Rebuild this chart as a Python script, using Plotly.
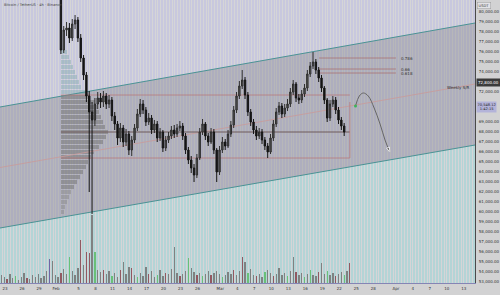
import plotly.graph_objects as go
import pandas as pd

# ---------------- data ----------------
candle_start = "2024-02-01 21:00"   # 12h candles
opens = [83000, 76200, 78200, 78400, 77400, 78800, 79200, 77400, 75400, 73700,
         71600, 70000, 69200, 70800, 71400, 71000, 71600, 70800, 71200, 69600,
         68800, 67400, 68400, 67000, 67800, 66200, 67200, 68400, 69800, 70800,
         70200, 69000, 69400, 68200, 68800, 67400, 68000, 66400, 67200, 67600,
         68200, 67800, 68400, 68600, 67600, 66200, 65200, 64400, 63700, 65400,
         68000, 68800, 67600, 67000, 68000, 66200, 64000, 66200, 67000, 66600,
         67800, 68700, 70200, 71600, 72600, 73200, 71700, 70000, 69000, 68200,
         67600, 68000, 67200, 66600, 66000, 67400, 68800, 70000, 70600, 69800,
         70400, 70800, 72000, 72800, 71400, 71200, 71800, 72400, 73800, 74600,
         75000, 74200, 73400, 72400, 71200, 69400, 70800, 71200, 70200, 69200,
         68600]
highs = [83500, 78600, 79000, 78900, 79300, 79700, 79500, 77800, 75700, 74000,
         72100, 71000, 71400, 72000, 71900, 72100, 71900, 71700, 71500, 70000,
         69100, 68900, 68700, 68300, 68100, 67600, 68800, 70300, 71300, 71200,
         70500, 69900, 69700, 69200, 69100, 68400, 68200, 67600, 68000, 68600,
         68700, 68800, 69100, 68900, 67900, 66500, 65600, 64800, 65800, 68400,
         69300, 69000, 67900, 68400, 68300, 66400, 66600, 67500, 67300, 68200,
         69100, 70600, 72000, 73100, 74200, 73500, 72000, 70300, 69300, 68600,
         68400, 68300, 67500, 66900, 67800, 69200, 70400, 71000, 70900, 70800,
         71300, 72400, 73200, 73000, 71800, 72200, 72800, 74200, 75000, 76000,
         75300, 74500, 73700, 72600, 71400, 71200, 71600, 71500, 70500, 69500,
         68900]
lows = [75800, 75900, 77600, 76900, 77100, 78300, 77000, 75000, 73200, 71000,
        62000, 59800, 68600, 70300, 70400, 70500, 70300, 70400, 69100, 68200,
        66700, 67000, 66500, 66600, 65700, 65600, 66900, 68100, 69500, 69800,
        68600, 68700, 67800, 67900, 67000, 67100, 66000, 66100, 66900, 67300,
        67400, 67500, 68100, 67200, 65800, 64800, 63900, 63000, 63400, 65200,
        67700, 67200, 66600, 66800, 65800, 63000, 63700, 65900, 66200, 66400,
        67500, 68400, 69900, 71300, 72300, 71300, 69600, 68600, 67800, 67200,
        67300, 66800, 66200, 65400, 65800, 67100, 68500, 69700, 69400, 69500,
        70100, 70500, 71700, 71000, 70800, 70900, 71500, 72100, 73500, 74300,
        73800, 73000, 72000, 70800, 69000, 69100, 70500, 69800, 68800, 68200,
        67600]
closes = [76200, 78200, 78400, 77400, 78800, 79200, 77400, 75400, 73700, 71600,
          70000, 69200, 70800, 71400, 71000, 71600, 70800, 71200, 69600, 68800,
          67400, 68400, 67000, 67800, 66200, 67200, 68400, 69800, 70800, 70200,
          69000, 69400, 68200, 68800, 67400, 68000, 66400, 67200, 67600, 68200,
          67800, 68400, 68600, 67600, 66200, 65200, 64400, 63700, 65400, 68000,
          68800, 67600, 67000, 68000, 66200, 64000, 66200, 67000, 66600, 67800,
          68700, 70200, 71600, 72600, 73200, 71700, 70000, 69000, 68200, 67600,
          68000, 67200, 66600, 66000, 67400, 68800, 70000, 70600, 69800, 70400,
          70800, 72000, 72800, 71400, 71200, 71800, 72400, 73800, 74600, 75000,
          74200, 73400, 72400, 71200, 69400, 70800, 71200, 70200, 69200, 68600,
          68000]

vol_start = "2024-01-22 09:00"    # 12h volume bars (thousands)
volumes_k = [8, 6, 4, 9, 5, 7, 3, 6, 10, 5,
             4, 8, 6, 9, 5, 7, 12, 24, 22, 8,
             6, 10, 14, 9, 26, 12, 8, 15, 43, 18,
             31, 30, 68, 31, 13, 11, 13, 9, 12, 7,
             10, 6, 13, 21, 9, 16, 15, 8, 6, 10,
             7, 16, 9, 12, 6, 8, 13, 7, 10, 9,
             14, 36, 10, 7, 9, 12, 25, 15, 11, 8,
             10, 7, 9, 12, 8, 10, 12, 9, 6, 8,
             11, 9, 13, 8, 12, 26, 21, 10, 14, 8,
             7, 9, 6, 11, 13, 10, 7, 9, 15, 8,
             10, 7, 12, 26, 11, 8, 10, 6, 9, 13,
             8, 7, 11, 20, 9, 12, 8, 10, 7, 9,
             11, 8, 12, 20]
vol_codes = ("kkrkkekkkr" "kkkkkkkpkk" "krkkekkkrk" "rrkekkrkke" "kkrkkkrkek"
             "kkrkkekkrk" "kkkrkkekkr" "kekkrkkkek" "kkrkkrkekk" "rkkekkrkkk"
             "kekkrkkeke" "kkrkkekkrk" "kekr")

profile_prices = [76000, 75500, 75000, 74500, 74000, 73500, 73000, 72500, 72000, 71500,
                  71000, 70500, 70000, 69500, 69000, 68500, 68000, 67500, 67000, 66500,
                  66000, 65500, 65000, 64500, 64000, 63500, 63000, 62500, 62000, 61500,
                  61000, 60500, 60000]
profile_volume = [6, 8, 10, 12, 14, 16, 18, 20, 24, 28,
                  34, 36, 38, 40, 42, 44, 47, 45, 42, 38,
                  33, 30, 27, 25, 22, 19, 16, 13, 10, 8,
                  6, 4, 3]

tick_dates = ["2024-01-23", "2024-01-26", "2024-01-29", "2024-02-01", "2024-02-05",
              "2024-02-08", "2024-02-11", "2024-02-14", "2024-02-17", "2024-02-20",
              "2024-02-23", "2024-02-26", "2024-03-01", "2024-03-04", "2024-03-07",
              "2024-03-10", "2024-03-13", "2024-03-16", "2024-03-19", "2024-03-22",
              "2024-03-25", "2024-03-28", "2024-04-01", "2024-04-04", "2024-04-07",
              "2024-04-10", "2024-04-13"]
tick_labels = ["23", "26", "29", "Feb", "5", "8", "11", "14", "17", "20", "23", "26",
               "Mar", "4", "7", "10", "13", "16", "19", "22", "25", "28", "Apr",
               "4", "7", "10", "13"]
# price scale labels (73k, 71k and 70k sit under the axis price boxes)
price_ticks = [53000, 54000, 55000, 56000, 57000, 58000, 59000, 60000, 61000, 62000,
               63000, 64000, 65000, 66000, 67000, 68000, 69000, 72000, 74000, 75000,
               76000, 77000, 78000, 79000, 80000]

# channel (drawn by the author): prices at left and right chart edges
chan_upper = [70500, 78900]
chan_lower = [58400, 66700]
chan_mid = [64450, 72800]

# volume profile levels
vah, poc, val = 71700, 68000, 65400

fib_names = ["0.786", "0.66", "0.618"]
fib_prices = [75400, 74300, 73900]

proj_dates = ["2024-03-24 21:00", "2024-03-25 13:00", "2024-03-26 06:00", "2024-03-27 03:00",
              "2024-03-28 04:00", "2024-03-29 05:00", "2024-03-30 02:00", "2024-03-30 22:00"]
proj_prices = [70600, 71600, 71900, 71600, 70400, 68800, 67200, 66000]

# ---------------- figure ----------------
W, H = 500, 295
ML, MR, MT, MB = 0, 22, 0, 12
YMIN, YMAX = 52900, 81200
t0 = pd.Timestamp("2024-01-22 03:00")
t1 = pd.Timestamp("2024-04-14 23:10")
px_ms = (t1 - t0).total_seconds() * 1000 / (W - ML - MR)   # ms per pixel

fig = go.Figure()

# background stripes
stripe_x = pd.date_range("2024-01-22 06:00", "2024-04-14 18:00", freq="12h")
fig.add_trace(go.Bar(x=stripe_x, y=[YMAX - YMIN] * len(stripe_x), base=YMIN,
                     width=px_ms * 0.9, marker=dict(color="#c8c8de", line_width=0),
                     hoverinfo="skip", showlegend=False))
frac = (stripe_x - t0) / (t1 - t0)
low_at = chan_lower[0] + frac * (chan_lower[1] - chan_lower[0])
fig.add_trace(go.Bar(x=stripe_x, y=list(low_at - YMIN), base=YMIN,
                     width=px_ms * 0.9, marker=dict(color="#b4d4d6", line_width=0),
                     hoverinfo="skip", showlegend=False))

# volume profile (horizontal)
prof_cols = ["rgba(120,165,170,0.40)" if p >= 72000 else
             ("rgba(140,140,140,0.45)" if p <= 62000 else "rgba(100,100,100,0.45)")
             for p in profile_prices]
fig.add_trace(go.Bar(orientation="h", y=profile_prices,
                     x=[v * px_ms for v in profile_volume],
                     base=candle_start, width=430,
                     marker=dict(color=prof_cols, line_width=0),
                     hoverinfo="skip", showlegend=False))

# channel fill and lines
fig.add_trace(go.Scatter(x=[t0, t1, t1, t0, t0],
                         y=[chan_upper[0], chan_upper[1], chan_lower[1], chan_lower[0], chan_upper[0]],
                         fill="toself", fillcolor="rgba(115,115,115,0.30)",
                         line=dict(width=0), mode="lines", hoverinfo="skip", showlegend=False))
for ys, col in [(chan_upper, "#4a9294"), (chan_lower, "#4a9294"), (chan_mid, "rgba(200,155,155,0.85)")]:
    fig.add_trace(go.Scatter(x=[t0, t1], y=ys, mode="lines",
                             line=dict(color=col, width=1), hoverinfo="skip", showlegend=False))

# value area lines
va_end = "2024-03-23 21:00"
for lvl, col in [(vah, "rgba(185,115,115,0.7)"), (poc, "#6e5a5a"), (val, "rgba(185,115,115,0.7)")]:
    fig.add_trace(go.Scatter(x=[candle_start, va_end], y=[lvl, lvl], mode="lines",
                             line=dict(color=col, width=1), hoverinfo="skip", showlegend=False))
fig.add_trace(go.Scatter(x=[va_end, va_end], y=[71000, val], mode="lines",
                         line=dict(color="rgba(185,115,115,0.7)", width=1),
                         hoverinfo="skip", showlegend=False))

# fib levels
fib_x0, fib_x1 = "2024-03-18 11:00", "2024-04-01 00:00"
for name, lvl in zip(fib_names, fib_prices):
    fig.add_trace(go.Scatter(x=[fib_x0, fib_x1], y=[lvl, lvl], mode="lines",
                             line=dict(color="rgba(170,110,110,0.75)", width=1),
                             hoverinfo="skip", showlegend=False))
    fig.add_annotation(x="2024-04-01 12:00", y=lvl, text=name, showarrow=False,
                       xanchor="left", yanchor="middle",
                       font=dict(size=4, color="#333", family="DejaVu Sans"))

# projection path
fig.add_trace(go.Scatter(x=proj_dates, y=proj_prices, mode="lines",
                         line=dict(color="#666", width=1, shape="spline"),
                         hoverinfo="skip", showlegend=False))
fig.add_trace(go.Scatter(x=[proj_dates[0]], y=[proj_prices[0]], mode="markers",
                         marker=dict(color="#3bb35a", size=3),
                         hoverinfo="skip", showlegend=False))
fig.add_trace(go.Scatter(x=proj_dates[-2:], y=proj_prices[-2:], mode="markers",
                         marker=dict(symbol="arrow", angleref="previous", size=[0, 5],
                                     color="#666"),
                         hoverinfo="skip", showlegend=False))

# volume
vol_x = pd.date_range(vol_start, periods=len(volumes_k), freq="12h")
cmap = {"k": "rgba(120,120,120,0.9)", "r": "rgba(140,75,85,0.9)",
        "e": "rgba(95,190,110,0.9)", "p": "rgba(105,90,160,0.9)"}
fig.add_trace(go.Bar(x=vol_x, y=volumes_k, yaxis="y2", width=px_ms * 1.3,
                     marker=dict(color=[cmap[c] for c in vol_codes], line_width=0),
                     hoverinfo="skip", showlegend=False))

# candles
candle_x = pd.date_range(candle_start, periods=len(closes), freq="12h")
fig.add_trace(go.Candlestick(x=candle_x, open=opens, high=highs, low=lows, close=closes,
                             yaxis="y3", whiskerwidth=0,
                             increasing=dict(line=dict(color="#2e2e2e", width=1), fillcolor="#5a5a5a"),
                             decreasing=dict(line=dict(color="#151515", width=1), fillcolor="#151515"),
                             hoverinfo="skip", showlegend=False))

fnt = dict(size=4, color="#333", family="DejaVu Sans")
fig.update_layout(
    width=W, height=H, margin=dict(l=ML, r=MR, t=MT, b=MB),
    paper_bgcolor="#d2d2d3", plot_bgcolor="#d5d5d7",
    barmode="overlay", bargap=0, showlegend=False,
    xaxis=dict(type="date", range=[t0, t1], tickvals=tick_dates, ticktext=tick_labels,
               tickfont=fnt, showgrid=False, zeroline=False, ticks="",
               showline=True, linecolor="#8585b5", linewidth=1,
               rangeslider=dict(visible=False), ticklabelstandoff=1),
    yaxis=dict(range=[YMIN, YMAX], side="right", tickvals=price_ticks,
               ticktext=[f"{v:,.2f}" for v in price_ticks], tickfont=fnt,
               showgrid=False, zeroline=False, ticks="", showline=True,
               linecolor="#4a4a4a", linewidth=1, ticklabelstandoff=2),
    yaxis2=dict(range=[0, H - MT - MB], overlaying="y", visible=False),
    yaxis3=dict(range=[YMIN, YMAX], overlaying="y", visible=False),
)

fig.add_annotation(xref="paper", yref="paper", x=0.004, y=1 - 5 / (H - MT - MB),
                   text="Bitcoin / TetherUS · 4h · Binance", showarrow=False,
                   xanchor="left", yanchor="middle",
                   font=dict(size=3.6, color="#444", family="DejaVu Sans"))
fig.add_annotation(xref="paper", yref="paper", x=1.005, y=1 - 5 / (H - MT - MB),
                   text="USDT", showarrow=False, xanchor="left", yanchor="middle",
                   bgcolor="#e2e2e6", bordercolor="#9a9a9a", borderwidth=0.5, borderpad=1,
                   font=dict(size=3.6, color="#333", family="DejaVu Sans"))
fig.add_annotation(x="2024-04-09 15:00", y=72450, text="Weekly S/R", showarrow=False,
                   xanchor="left", yanchor="middle", font=fnt)
fig.add_annotation(xref="paper", x=1.003, y=73000, text="72,800.00", showarrow=False,
                   xanchor="left", yanchor="middle", bgcolor="#3a3a3a", borderpad=1,
                   font=dict(size=4, color="#ffffff", family="DejaVu Sans"))
fig.add_annotation(xref="paper", x=1.003, y=70500, text="70,548.12<br>1:42:15", showarrow=False,
                   xanchor="left", yanchor="middle", bgcolor="#b3b3d9", borderpad=0.5,
                   font=dict(size=3.6, color="#222", family="DejaVu Sans"))

fig.write_html("out.html")
